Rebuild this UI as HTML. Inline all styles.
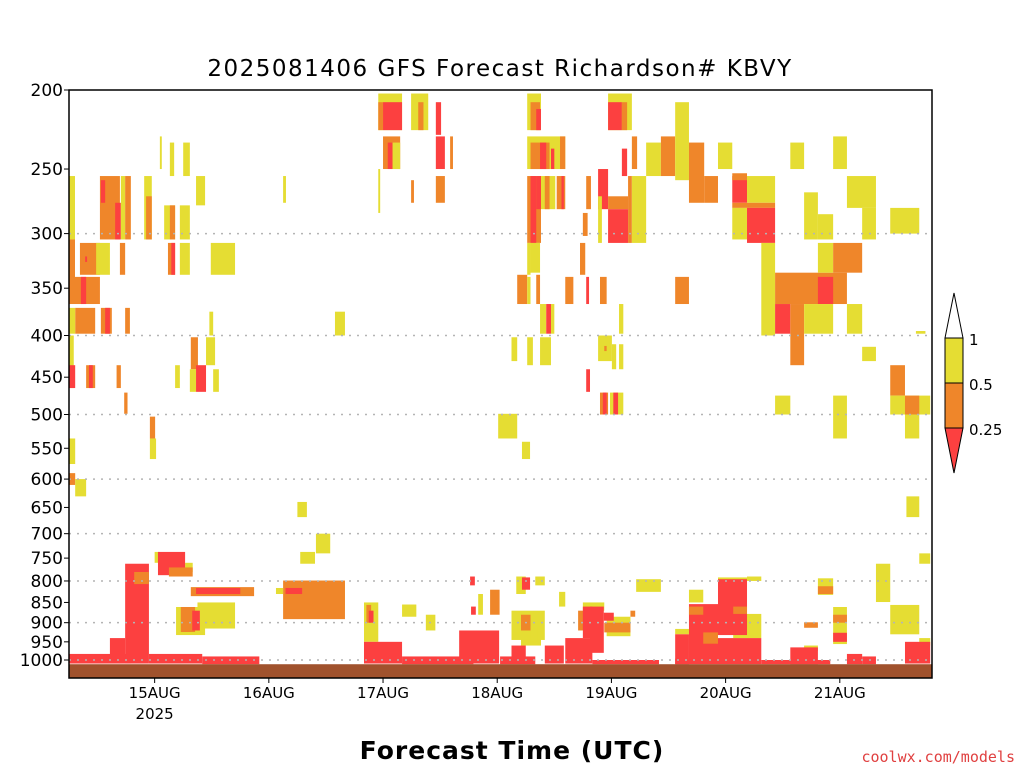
<!DOCTYPE html>
<html><head><meta charset="utf-8"><style>
body{margin:0;background:#fff;}
svg{display:block;font-family:"DejaVu Sans","Liberation Sans",sans-serif;}
</style></head><body>
<svg id="chart" width="1024" height="768" viewBox="0 0 1024 768" xmlns="http://www.w3.org/2000/svg">
<rect width="1024" height="768" fill="#fff"/>
<text x="500" y="76" font-size="23" letter-spacing="1.5" text-anchor="middle" fill="#000">2025081406 GFS Forecast Richardson# KBVY</text>
<g id="cells"></g>
<g id="grid"></g>
<g id="axes"></g>
<text x="512" y="759" font-size="25" text-anchor="middle" fill="#000" font-weight="bold" letter-spacing="1">Forecast Time (UTC)</text>
<text x="1015" y="762" font-size="15" text-anchor="end" fill="#e04040" font-family="'DejaVu Sans Mono','Liberation Mono',monospace">coolwx.com/models</text>
<g>
<polygon points="945,338 963,338 954,293" fill="#fff" stroke="#000"/>
<rect x="945" y="338" width="18" height="45" fill="#e5dd33" stroke="#000"/>
<rect x="945" y="383" width="18" height="45" fill="#ef862a" stroke="#000"/>
<polygon points="945,428 963,428 954,473" fill="#fc4040" stroke="#000"/>
<text x="969" y="345" font-size="15">1</text>
<text x="969" y="390" font-size="15">0.5</text>
<text x="969" y="435" font-size="15">0.25</text>
</g>
</svg>
<script>
const levels=[200,250,300,350,400,450,500,550,600,650,700,750,800,850,900,950,1000];
const gridLevels=[300,400,500,600,700,800,900,1000];
const dayLabels=["15AUG","16AUG","17AUG","18AUG","19AUG","20AUG","21AUG"];
const dayHours=[18,42,66,90,114,138,162];
const classColors=["#ffffff","#e5dd33","#ef862a","#fc4040"];
// [startHour,endHour,pTop,pBottom,class]
const cells=[
[65,70,202,224,1],[66,70,207,224,3],[65,66,207,224,2],[71.9,75.5,202,224,1],[73.4,74.5,207,224,2],[77.1,78.2,207,227,3],
[66,69.6,228,250,2],[67,68,232,250,3],[68,69.6,232,250,1],[77.1,79,228,250,3],[80.1,80.7,228,250,2],[65,65.4,250,283,1],
[71.9,72.5,258,275,2],[77.1,79,255,275,2],[0,1.26,255,305,1],[6.5,10.7,255,305,2],[6.7,7.6,258,275,3],[9.7,10.9,275,305,3],
[10.9,11.8,255,305,1],[11.8,13,255,305,2],[15.8,17.4,255,305,1],[16.2,17.4,270,305,2],[19.1,19.5,228,250,1],[21.2,22.1,232,255,1],
[24,25.4,232,255,1],[20,22.3,277,305,1],[21.2,22.3,277,305,2],[23.3,25.4,277,305,1],[26.7,28.6,255,277,1],[45,45.6,255,275,1],
[0,1.26,305,340,2],[2.3,6.5,308,337,2],[3.4,3.8,320,325,3],[5.7,8.6,308,337,1],[10.7,11.8,308,337,2],[20.8,22.3,308,337,2],
[21.5,22.3,308,337,3],[23.3,25.4,308,337,1],[29.8,34.9,308,337,1],
[0,6.5,339,366,2],[2.5,3.6,339,366,3],[1.3,5.5,370,398,2],[0,1.3,370,398,1],[6.7,9,370,398,2],[7.6,8.6,370,398,3],[11.8,12.8,370,398,2],
[55.9,58,374,400,1],[0,1,400,464,1],[0,1.3,435,464,3],[3.6,5.5,435,464,2],[4.2,5,435,464,3],[10,10.9,435,464,2],[11.6,12.3,470,499,2],
[22.3,23.3,435,464,1],[25.6,27.1,402,440,2],[28.8,30.7,402,435,1],[30.3,31.5,440,469,1],[25.4,26.7,440,469,1],[26.7,28.8,435,469,3],
[29.5,30.3,374,400,1],[17,18.1,503,535,2],[17,18.3,535,567,1],[0,1.3,535,575,1],[0,1.3,590,610,2],[1.3,3.6,600,630,1],
[96.3,99.2,202,224,1],[97,99,207,224,2],[98.2,99.2,211,224,3],[113.3,118.3,202,224,1],[113.3,116.2,207,224,3],[116.2,117.3,207,224,2],
[96.3,104.3,228,250,1],[97,101,232,250,2],[99,100.3,232,250,3],[101.3,102,236,250,3],[103.2,104.3,228,250,2],
[116.2,117.3,236,255,3],[118.3,119.4,228,250,2],[121.3,124.4,232,255,1],[124.4,127.4,228,255,2],[127.4,130.3,207,258,1],
[130.3,133.5,232,275,2],[133.5,136.4,255,275,2],[136.4,139.4,232,250,1],[139.4,142.5,255,275,3],[139.4,142.5,253,258,2],
[142.5,148.4,255,275,1],[139.4,148.4,275,279,2],[139.4,142.5,279,305,1],[142.5,148.4,279,308,3],[151.6,154.5,232,250,1],
[154.5,157.4,267,305,1],[157.4,160.6,284,305,1],[160.6,163.5,228,250,1],[163.5,169.6,255,279,1],[166.7,169.6,279,305,1],
[172.6,178.7,279,300,1],
[96.3,99.2,255,308,2],[97,98.2,255,308,3],[98.2,99.2,255,280,3],[99.2,102.2,255,280,1],[100,101,255,280,2],[102.5,104.3,255,280,2],
[103.5,104,255,280,3],[108.7,109.7,255,280,2],[111.2,113.3,250,280,3],[111.2,112,270,308,1],[113.3,117.5,270,280,2],[113.3,117.5,280,308,3],
[117.5,118.3,255,308,2],[118.3,121.3,255,308,1],[97,99,308,335,1],[108,109,283,302,2],
[145.5,148.4,308,400,1],[148.4,163.5,335,366,2],[157.4,160.6,308,335,1],[160.6,166.7,308,335,2],[157.4,160.6,339,366,3],
[148.4,151.6,366,398,3],[151.6,154.5,366,435,2],[154.5,160.6,366,398,1],[163.5,166.7,366,398,1],[166.7,169.6,413,430,1],
[94.2,96.3,337,366,2],[96.3,97,339,366,1],[98.2,99,337,366,2],[104.3,106,339,366,2],[108.7,109.3,339,366,3],[111.6,113,339,366,2],
[107.4,108.5,308,337,2],[96.3,97,308,337,1],[127.4,130.3,339,366,2],[99,100.3,366,398,1],[100.3,101.3,366,398,3],[101.3,102,366,398,1],
[115.6,116.5,366,398,1],[93,94.2,402,430,1],[96.3,97.5,402,435,1],[99,101.3,402,435,1],[111.2,114.1,400,430,1],[112.5,113,412,418,2],
[114.1,115,410,440,1],[115.6,116.5,410,440,1],[108.7,109.5,440,469,3],[113.7,116.5,470,500,1],[111.6,113.3,470,500,2],[112.2,113,470,500,3],
[114.4,115.4,470,500,3],[90.2,94.2,499,535,1],[95.2,96.9,540,567,1],[148.4,151.6,474,500,1],[160.6,163.5,474,535,1],
[172.6,175.7,435,474,2],[172.6,181,474,500,1],[175.7,178.7,474,500,2],[175.7,178.7,500,535,1],[176,178.7,630,668,1],[178,180,395,398,1],
[0,13,983,1010,3],[11.8,16.8,762,1010,3],[13.7,16.8,780,807,2],[8.6,11.8,940,1000,3],[16.8,28,983,1010,3],[28,40,990,1012,3],
[18,19,737,760,1],[24.4,26,760,780,1],[18.7,24.4,737,787,3],[21,26,770,790,2],[25.6,38.9,814,835,2],[26.7,36,816,830,3],
[27,34.9,850,915,1],[22.5,28.6,861,932,1],[23.5,26.5,861,924,2],[25.9,27.5,870,920,3],
[43.5,45,816,830,1],[55,58,800,870,1],[45,58,799,891,2],[45.5,49,816,830,3],[48.6,51.7,737,762,1],[51.9,54.9,700,740,1],[48,50,640,668,1],
[62,65,850,950,1],[62.5,63.5,856,900,2],[63,64,870,900,3],[70,73,855,885,1],[62,70,950,1010,3],[70,85,990,1012,3],[82,90.4,920,1010,3],
[84.3,85.3,790,810,3],[84.5,85.5,860,880,3],[75,77,880,920,1],[86,87,830,880,1],[88.5,90.5,820,880,2],
[90.6,98,990,1012,3],[95,99.2,930,960,1],[93,96,960,1010,3],[94,96,790,830,1],[98,100,790,810,1],[95.2,96.9,792,820,3],
[93,100,870,945,1],[95,97,880,920,2],[97,98.5,910,950,1],[100,104,960,1010,3],[103,104.3,825,860,1],[104.3,110,940,1010,3],
[108,112.5,850,870,1],[107,112,870,920,2],[108,110,860,940,3],[109.5,112.4,860,980,3],[113,118,885,935,1],[112.5,118,900,925,2],
[112.4,114.5,875,895,3],[118,119,870,885,2],[110,124,1000,1012,3],[119.2,124.4,796,825,1],
[127.4,136.4,996,1012,3],[127.4,130.3,916,930,1],[127.4,130.3,930,1012,3],[130.3,133.3,820,850,1],[130.3,136.4,854,1000,3],
[130.3,133.3,860,880,2],[133.3,136.4,925,955,2],[139.6,145.5,878,940,1],[136.4,142.5,792,800,1],[136.4,142.5,796,932,3],
[139.6,142.5,860,878,2],[136.4,145.5,940,1012,3],[142.5,145.5,790,800,1],[145.5,160,1000,1012,3],[154.5,157.4,960,975,1],
[151.6,157.4,965,1012,3],[154.5,157.4,899,913,2],[157.4,160.6,794,832,1],[157.4,160.6,812,830,2],[160.6,163.5,861,956,1],
[160.6,163.5,880,900,2],[160.6,163.5,926,950,3],[163.5,166.7,983,1012,3],[166.7,169.6,990,1012,3],[169.6,172.6,762,849,1],
[172.6,178.7,856,930,1],[178.7,181,940,960,1],[175.7,181,950,1010,3],[178.7,181,740,762,1]
];
const NS="http://www.w3.org/2000/svg";
const X0=69,X1=932,Y0=90,Y1=678,PXH=4.758;
function xs(h){return X0+h*PXH;}
function ys(p){return Y0+Math.log(p/200)/Math.log(5)*570;}
function mk(tag,attrs,parent){const e=document.createElementNS(NS,tag);for(const k in attrs)e.setAttribute(k,attrs[k]);parent.appendChild(e);return e;}
const gc=document.getElementById('cells');
cells.forEach(c=>{
  const x0=Math.max(X0,xs(c[0])),x1=Math.min(X1,xs(c[1]));
  const r=mk('rect',{x:x0,y:ys(c[2]),width:Math.max(0,x1-x0),height:ys(c[3])-ys(c[2]),fill:classColors[c[4]]},gc);
  
  
});
const ground=mk('rect',{x:X0,y:ys(1012),width:X1-X0,height:Y1-ys(1012),fill:'#a0522d'},gc);


const gg=document.getElementById('grid');
gridLevels.forEach(p=>{
  const l=mk('line',{x1:X0,x2:X1,y1:ys(p),y2:ys(p),stroke:'#b4b4b4','stroke-width':1.5,'stroke-dasharray':'2,6'},gg);
  
  
});
const ga=document.getElementById('axes');
const fr=mk('rect',{x:X0,y:Y0,width:X1-X0,height:Y1-Y0,fill:'none',stroke:'#000','stroke-width':1.5},ga);


levels.forEach(p=>{
  const y=ys(p);
  const t=mk('line',{x1:X0-5,x2:X0,y1:y,y2:y,stroke:'#000'},ga);
  
  
  const tx=mk('text',{x:X0-6,y:y+6,'font-size':17,'text-anchor':'end'},ga);
  tx.textContent=p;
  
  
});
dayHours.forEach((h,i)=>{
  const x=xs(h);
  const t=mk('line',{x1:x,x2:x,y1:Y1,y2:Y1+5,stroke:'#000'},ga);
  
  
  const tx=mk('text',{x:x,y:Y1+20,'font-size':15,'text-anchor':'middle'},ga);
  tx.textContent=dayLabels[i];
  
  
});
const yr=mk('text',{x:xs(dayHours[0]),y:Y1+41,'font-size':15,'text-anchor':'middle'},ga);
yr.textContent='2025';


</script>
</body></html>
